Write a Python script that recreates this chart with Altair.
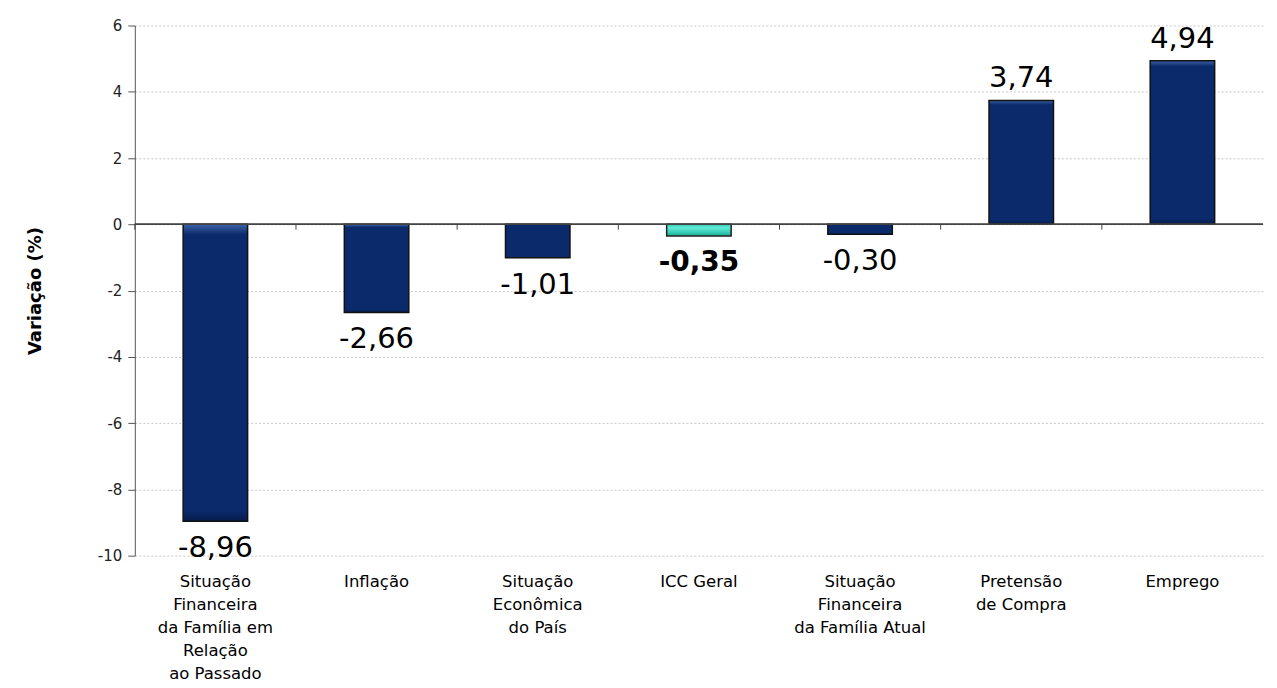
import altair as alt
import pandas as pd

categories = [
    "Situação|Financeira|da Família em|Relação|ao Passado",
    "Inflação",
    "Situação|Econômica|do País",
    "ICC Geral",
    "Situação|Financeira|da Família Atual",
    "Pretensão|de Compra",
    "Emprego",
]
values = [-8.96, -2.66, -1.01, -0.35, -0.30, 3.74, 4.94]
highlight = [False, False, False, True, False, False, False]
y_ticks = [-10, -8, -6, -4, -2, 0, 2, 4, 6]

df = pd.DataFrame({"cat": categories, "val": values, "hl": highlight})
df["label"] = df["val"].map(lambda v: f"{v:.2f}".replace(".", ","))

FONT = "DejaVu Sans"
W, H = 1130, 531

xenc = alt.X(
    "cat:N",
    sort=categories,
    scale=alt.Scale(paddingInner=0, paddingOuter=0),
    axis=alt.Axis(
        title=None, labelAngle=0, labelExpr="split(datum.label, '|')",
        domain=False, ticks=False, labelFontSize=16.5, labelLineHeight=23,
        labelPadding=18, labelColor="#000", labelFont=FONT, labelBaseline="top",
    ),
)
yenc = alt.Y(
    "val:Q",
    scale=alt.Scale(domain=[-10, 6], nice=False, zero=False),
    axis=alt.Axis(
        values=y_ticks, title="Variação (%)", titleFont=FONT, titleFontSize=18,
        titleFontWeight="bold", titleColor="#000", titlePadding=53,
        gridDash=[2, 2], gridColor="#c8c8c8", domainColor="#555", tickColor="#555",
        tickSize=7, labelFontSize=15, labelFont=FONT, labelColor="#222",
        labelPadding=6, labelExpr="datum.value + ''",
    ),
)

base = alt.Chart(df)

navy = alt.Gradient(
    gradient="linear", x1=0, y1=0, x2=0, y2=1,
    stops=[
        alt.GradientStop(offset=0, color="#3d62a8"),
        alt.GradientStop(offset=0.035, color="#0a2a6b"),
        alt.GradientStop(offset=0.965, color="#0a2a6b"),
        alt.GradientStop(offset=1, color="#061c4c"),
    ],
)
teal = alt.Gradient(
    gradient="linear", x1=0, y1=0, x2=0, y2=1,
    stops=[
        alt.GradientStop(offset=0, color="#33ccb4"),
        alt.GradientStop(offset=0.3, color="#62ecd8"),
        alt.GradientStop(offset=0.7, color="#33ccb4"),
        alt.GradientStop(offset=1, color="#22a892"),
    ],
)

bars = base.transform_filter("!datum.hl").mark_bar(
    width={"band": 0.4}, stroke="#111", strokeWidth=1.5, color=navy
).encode(x=xenc, y=yenc, y2=alt.datum(0))

hl_bars = base.transform_filter("datum.hl").mark_bar(
    width={"band": 0.4}, stroke="#222", strokeWidth=1.5, color=teal
).encode(x=alt.X("cat:N", sort=categories), y="val:Q", y2=alt.datum(0))

zero = base.mark_rule(color="#444", strokeWidth=1).encode(
    y=alt.datum(0), x=alt.value(0), x2=alt.value(W)
)

ticks = base.mark_rule(color="#444", strokeWidth=1).encode(
    x=alt.X("cat:N", sort=categories, bandPosition=0),
    y=alt.datum(0),
    y2=alt.datum(-0.16),
)

neg_text = base.transform_filter("datum.val < 0 && !datum.hl").mark_text(
    baseline="top", dy=13, fontSize=29, font=FONT, color="#000"
).encode(x=alt.X("cat:N", sort=categories), y="val:Q", text="label:N")

hl_text = base.transform_filter("datum.hl").mark_text(
    baseline="top", dy=13, fontSize=28, font=FONT, fontWeight="bold", color="#000"
).encode(x=alt.X("cat:N", sort=categories), y="val:Q", text="label:N")

pos_text = base.transform_filter("datum.val >= 0").mark_text(
    baseline="bottom", dy=-7, fontSize=29, font=FONT, color="#000"
).encode(x=alt.X("cat:N", sort=categories), y="val:Q", text="label:N")

chart = alt.layer(bars, hl_bars, zero, ticks, neg_text, hl_text, pos_text).properties(
    width=W, height=H, padding={"left": 18, "top": 10, "right": 5, "bottom": 5}
).configure_view(stroke=None)

chart.save("out.html", embed_options={"renderer": "svg", "actions": False})
